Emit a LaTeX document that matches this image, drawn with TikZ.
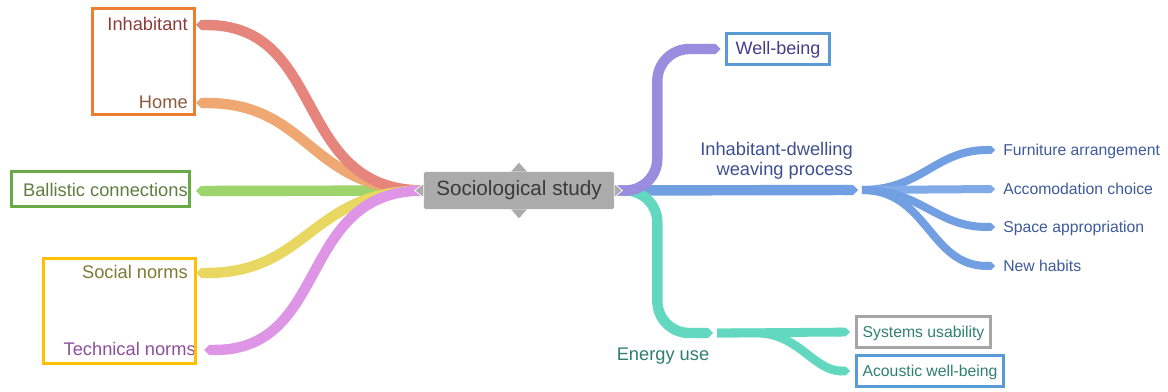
\documentclass[tikz,border=0pt]{standalone}
\usepackage{fontspec}
\setmainfont{Liberation Sans}
\usetikzlibrary{arrows.meta}
\definecolor{socfill}{HTML}{ABABAB}
\definecolor{soctext}{HTML}{3A3A3A}
\definecolor{brred}{HTML}{E5857C}
\definecolor{brorange}{HTML}{EFA872}
\definecolor{brgreen}{HTML}{9DD46B}
\definecolor{bryellow}{HTML}{E8D862}
\definecolor{brpink}{HTML}{DE95E6}
\definecolor{brpurple}{HTML}{9A8DE0}
\definecolor{brblue}{HTML}{729FE2}
\definecolor{brbluelight}{HTML}{80AAE8}
\definecolor{brteal}{HTML}{63D8C0}
\definecolor{inhtext}{HTML}{8E3B3B}
\definecolor{hometext}{HTML}{8C5A3C}
\definecolor{baltext}{HTML}{5E7D3E}
\definecolor{normtext}{HTML}{7D7A35}
\definecolor{techtext}{HTML}{8E4E9E}
\definecolor{wbtext}{HTML}{463C8C}
\definecolor{idwtext}{HTML}{3D4F8F}
\definecolor{leaftext}{HTML}{3E5A9A}
\definecolor{eutext}{HTML}{2F7F6F}
\definecolor{boxorange}{HTML}{ED7D31}
\definecolor{boxgreen}{HTML}{6AAA46}
\definecolor{boxyellow}{HTML}{FFC000}
\definecolor{boxblue}{HTML}{5B9BD5}
\definecolor{boxgray}{HTML}{A6A6A6}
\begin{document}
\begin{tikzpicture}[x=0.025cm,y=-0.025cm,
  br/.style={draw=#1,line width=0.26cm,-{Triangle Cap}},
  leafbr/.style={draw=#1,line width=0.2cm,-{Triangle Cap}},
  lbl/.style={inner xsep=0.2cm,inner ysep=0pt,text height=0.72em,text depth=0pt,font=\fontsize{13}{15}\selectfont},
  leaf/.style={lbl,font=\fontsize{11.2}{13}\selectfont,text=leaftext},
  boxline/.style={draw=#1,line width=0.075cm}]
\useasboundingbox (0,0) rectangle (1168,392);
\node[fill=socfill,text=soctext,minimum width=4.75cm,minimum height=0.925cm,rounded corners=1pt,font=\fontsize{14.7}{17}\selectfont] (soc) at (519,190.5) {Sociological study};
\node[lbl,anchor=east,text=inhtext] (inh) at (196,25) {Inhabitant};
\node[lbl,anchor=east,text=hometext] (home) at (196,103) {Home};
\node[lbl,anchor=east,text=baltext] (bal) at (196,191) {Ballistic connections};
\node[lbl,anchor=east,text=normtext] (socn) at (196,273) {Social norms};
\node[lbl,anchor=east,text=techtext] (tech) at (204,350) {Technical norms};
\draw[boxline=boxorange] (92.5,8.5) rectangle (194.5,114.5);
\draw[boxline=boxgreen] (11.5,171.5) rectangle (189.5,206.5);
\draw[boxline=boxyellow] (43.5,258.5) rectangle (195.5,363.5);
\draw[br=brgreen] (soc.west) -- (bal.east);
\draw[br=brorange] (soc.west) to[out=180,in=0,looseness=1.2] (home.east);
\draw[br=brred] (soc.west) to[out=180,in=0,looseness=1.2] (inh.east);
\draw[br=bryellow] (soc.west) to[out=180,in=0,looseness=1.2] (socn.east);
\draw[br=brpink] (soc.west) to[out=180,in=0,looseness=1.2] (tech.east);
\node[lbl,boxline=boxblue,text=wbtext,minimum width=2.55cm,minimum height=0.775cm,font=\fontsize{12.8}{15}\selectfont] (wb) at (778,49) {Well-being};
\node[inner sep=0pt,align=right,anchor=east,text=idwtext,font=\fontsize{13}{14.3}\selectfont] (idw) at (853,161) {Inhabitant-dwelling\\weaving process};
\node[lbl,text=eutext] (eu) at (663,355) {Energy use};
\node[leaf,anchor=west] (furn) at (995,150) {Furniture arrangement};
\node[leaf,anchor=west] (acc) at (995,189) {Accomodation choice};
\node[leaf,anchor=west] (space) at (995,227) {Space appropriation};
\node[leaf,anchor=west] (habits) at (995,266) {New habits};
\node[leaf,text=eutext,boxline=boxgray,inner xsep=0pt,minimum width=3.35cm,minimum height=0.775cm] (sys) at (923.5,332) {Systems usability};
\node[leaf,text=eutext,boxline=boxblue,inner xsep=0pt,minimum width=3.675cm,minimum height=0.775cm] (ac) at (930,371) {Acoustic well-being};
\coordinate (idwend) at (858,190);
\coordinate (fan) at (862,190);
\coordinate (euend) at (713,333);
\coordinate (eufork) at (717,333);
\draw[br=brblue] (soc.east) -- (idwend);
\draw[leafbr=brblue] (fan) to[out=0,in=180,looseness=1.1] (furn.west);
\draw[leafbr=brbluelight] (fan) -- (acc.west);
\draw[leafbr=brblue] (fan) to[out=0,in=180,looseness=1.1] (space.west);
\draw[leafbr=brblue] (fan) to[out=0,in=180,looseness=1.1] (habits.west);
\draw[br=brteal,rounded corners=0.8cm] (soc.east) -- ++(43,0) |- (euend);
\draw[br=brpurple,rounded corners=0.8cm,shorten >=3.5pt] (soc.east) -- ++(43,0) |- (wb.west);
\draw[leafbr=brteal,line width=0.22cm,shorten >=3.5pt] (eufork) -- (sys.west);
\draw[leafbr=brteal,line width=0.22cm,shorten >=3.5pt] (eufork) -- ++(40,0) to[out=0,in=180] (ac.west);
\fill[socfill,draw=white,line width=0.5pt] (soc.west) ++(0,-7) -- ++(-9,7) -- ++(9,7) -- cycle;
\fill[socfill,draw=white,line width=0.5pt] (soc.east) ++(0,-7) -- ++(8,7) -- ++(-8,7) -- cycle;
\fill[socfill] (soc.north) ++(-8,0) -- ++(8,-9) -- ++(8,9) -- cycle;
\fill[socfill] (soc.south) ++(-8,0) -- ++(8,9) -- ++(8,-9) -- cycle;
\end{tikzpicture}
\end{document}
